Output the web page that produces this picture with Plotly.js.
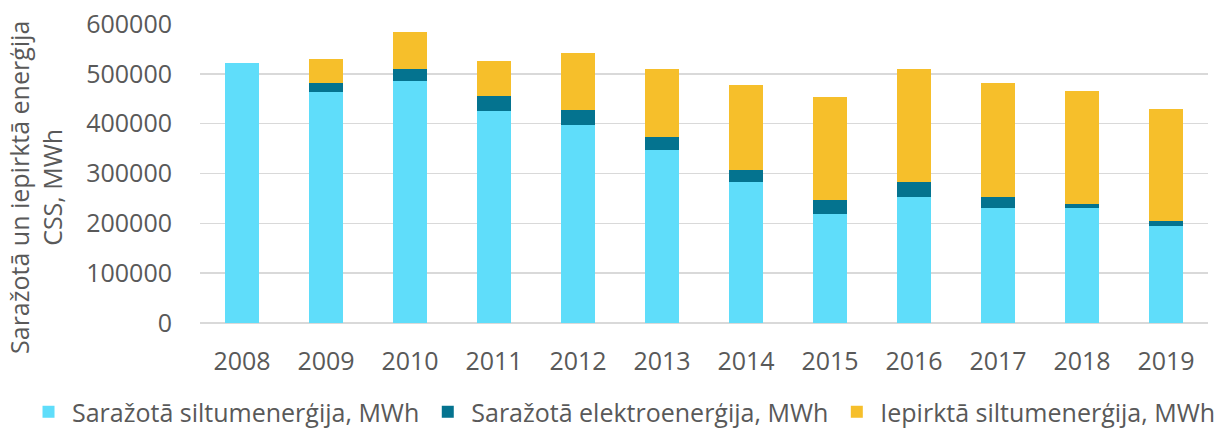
<!DOCTYPE html>
<html>
<head>
<meta charset="utf-8">
<script src="https://cdn.plot.ly/plotly-3.0.1.min.js"></script>
<style>html,body{margin:0;padding:0;background:#fff;}#chart{width:1221px;height:430px;}</style>
</head>
<body>
<div id="chart"></div>
<script>
const years = ["2008","2009","2010","2011","2012","2013","2014","2015","2016","2017","2018","2019"];
const producedHeat = [522000,463000,485000,425000,398000,347000,282000,219000,253000,231000,230000,195000];
const producedElec = [0,18000,24000,30000,29000,26000,25000,27000,30000,22000,9000,10000];
const purchasedHeat = [0,48000,74000,70000,114000,136000,170000,208000,227000,229000,226000,224000];
const seriesNames = ["Saražotā siltumenerģija, MWh","Saražotā elektroenerģija, MWh","Iepirktā siltumenerģija, MWh"];
const yTickVals = [0,100000,200000,300000,400000,500000,600000];
const yTitle = "Saražotā un iepirktā enerģija<br>CSS, MWh";

const colors = ["#5FDDFA","#04738F","#F6BF2B"];
const font = {family:"Open Sans, sans-serif", size:25, color:"#595959"};

const data = [producedHeat, producedElec, purchasedHeat].map((vals,i)=>({
  type:"bar", x:years, y:vals, name:seriesNames[i],
  marker:{color:colors[i], line:{width:0}}, hoverinfo:"x+y+name"
}));

const layout = {
  width:1221, height:430,
  barmode:"stack", bargap:0.6,
  margin:{l:200, r:13, t:24, b:107, autoexpand:false},
  paper_bgcolor:"#fff", plot_bgcolor:"#fff",
  font:font,
  showlegend:true,
  legend:{orientation:"h", xref:"paper", yref:"paper", x:-0.1736, xanchor:"left", y:-0.2977, yanchor:"middle",
    font:font, itemwidth:37, traceorder:"normal", itemclick:false},
  xaxis:{type:"category", tickfont:font, showgrid:false, zeroline:false, showline:false, ticks:"", ticklen:0, ticklabelstandoff:21},
  yaxis:{range:[0,600000], tickvals:yTickVals, ticktext:yTickVals.map(v=>String(v)), tickfont:font,
    showgrid:true, gridcolor:"#D9D9D9", gridwidth:1.5, zeroline:true, zerolinecolor:"#D9D9D9", zerolinewidth:1.5,
    showline:false, ticks:"", ticklabelstandoff:27},
  annotations:[{text:yTitle, textangle:-90, xref:"paper", yref:"paper", x:-0.1627, y:0.455,
    xanchor:"center", yanchor:"middle", showarrow:false, font:font}]
};
Plotly.newPlot("chart", data, layout, {displayModeBar:false, staticPlot:true});
</script>
</body>
</html>
